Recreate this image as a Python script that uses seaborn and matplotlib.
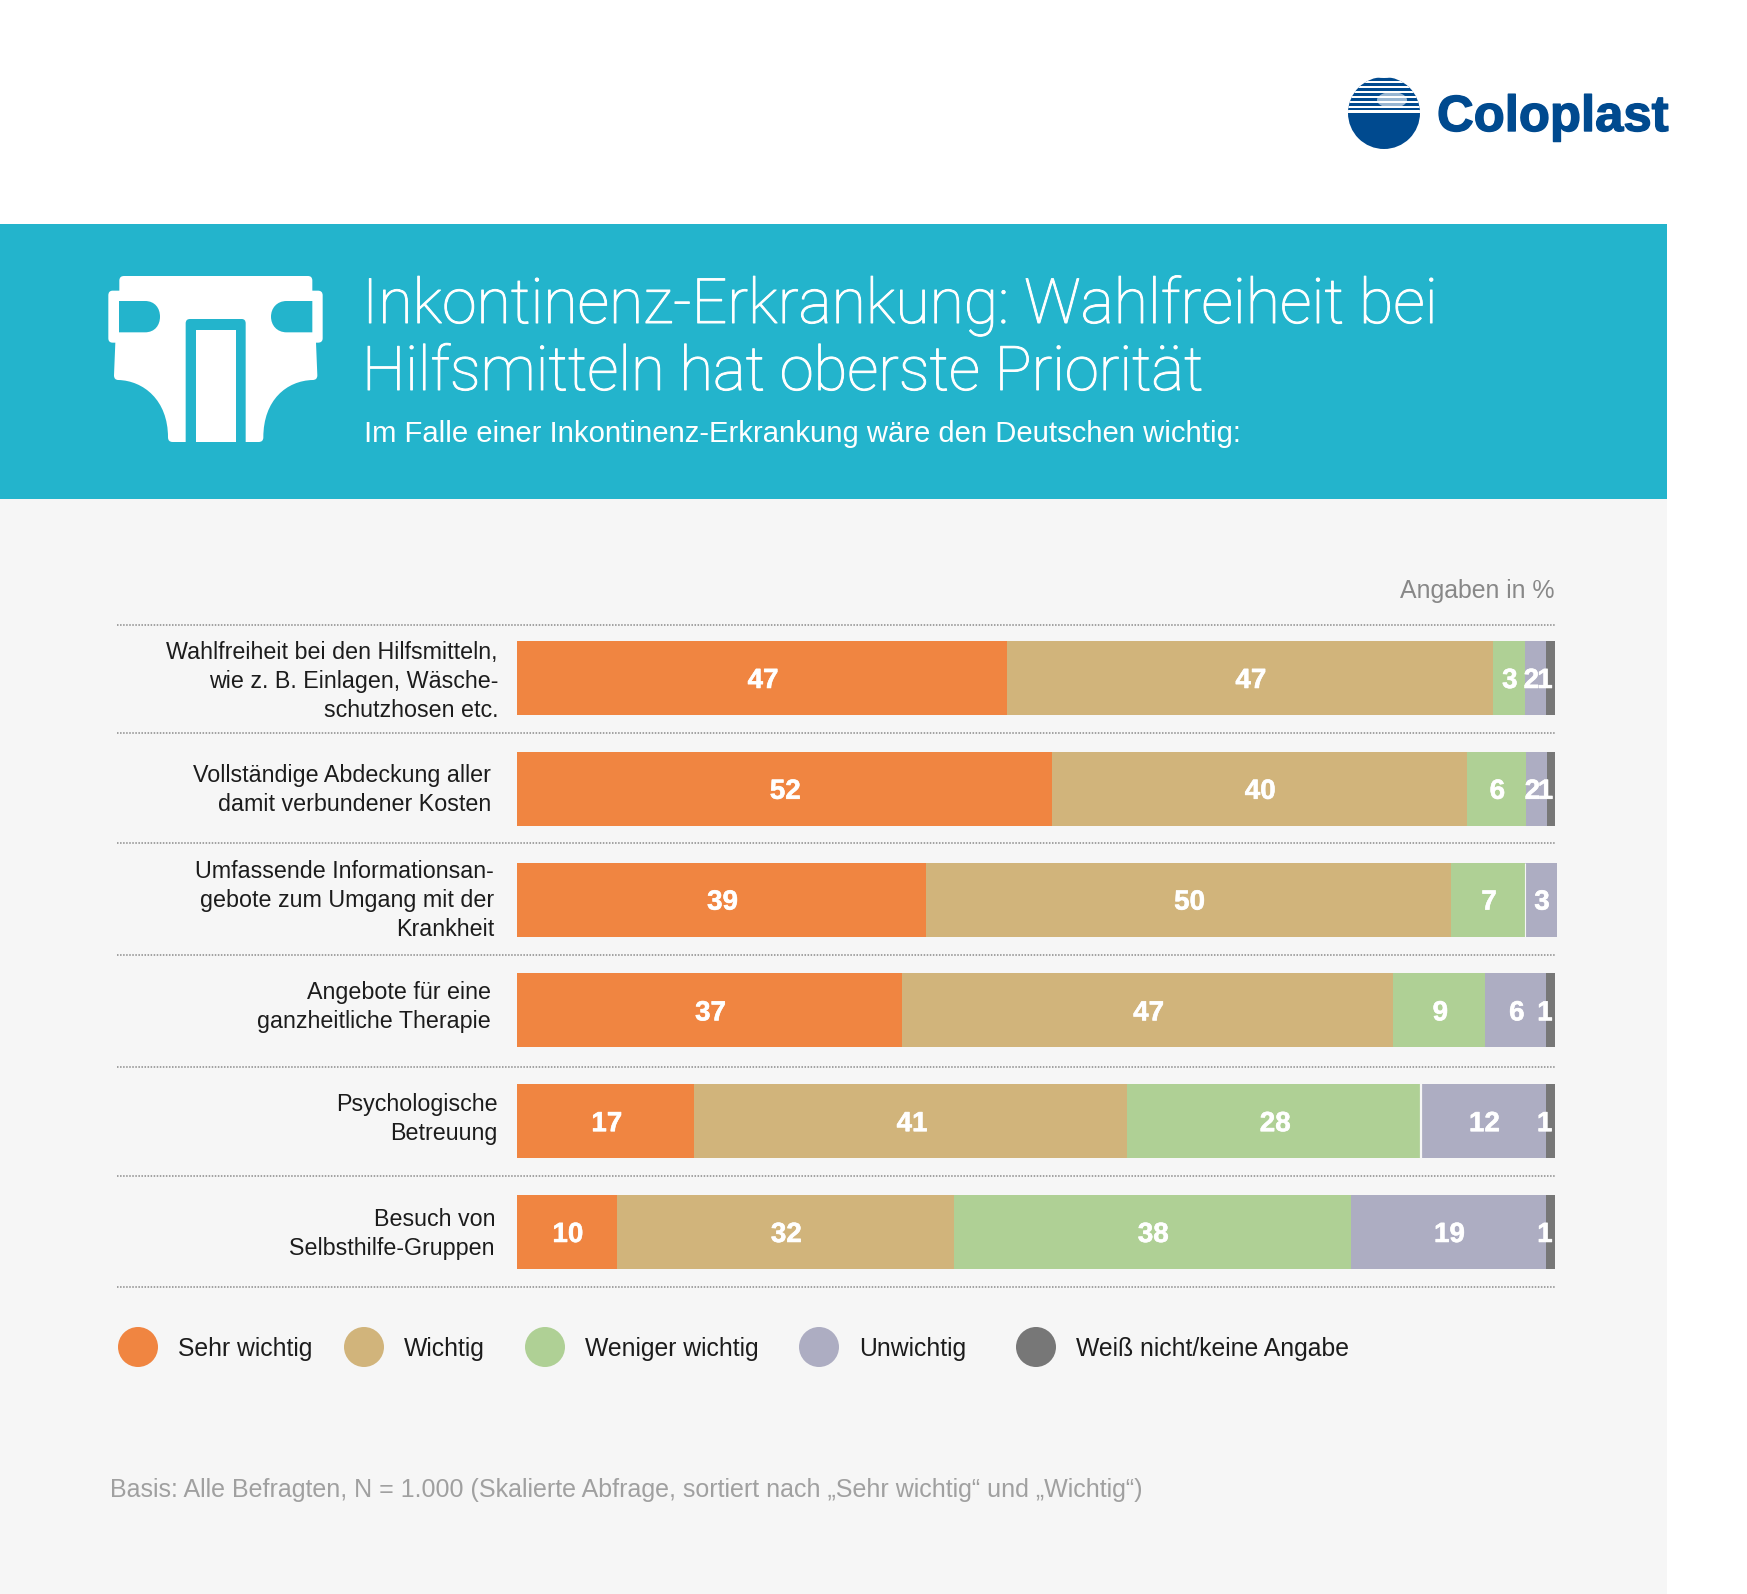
import numpy as np
import pandas as pd
import matplotlib
matplotlib.use("Agg")
import matplotlib.pyplot as plt
import matplotlib.patheffects as pe
import seaborn as sns
from matplotlib.path import Path
from matplotlib.patches import PathPatch, Rectangle, Circle, Ellipse
from matplotlib.transforms import ScaledTranslation

W, H = 1747, 1594

categories = [
    "Wahlfreiheit bei den Hilfsmitteln,\nwie z. B. Einlagen, Wäsche-\nschutzhosen etc.",
    "Vollständige Abdeckung aller\ndamit verbundener Kosten",
    "Umfassende Informationsan-\ngebote zum Umgang mit der\nKrankheit",
    "Angebote für eine\nganzheitliche Therapie",
    "Psychologische\nBetreuung",
    "Besuch von\nSelbsthilfe-Gruppen",
]
series_names = ["Sehr wichtig", "Wichtig", "Weniger wichtig", "Unwichtig", "Weiß nicht/keine Angabe"]
colors = ["#F08541", "#D1B47B", "#AFD095", "#ADADC2", "#777777"]

# bar lengths as measured in the picture
sehr_wichtig = [47.2, 51.5, 39.4, 37.1, 17.1, 9.6]
wichtig = [46.8, 40.0, 50.6, 47.3, 41.7, 32.5]
weniger_wichtig = [3.1, 5.7, 7.1, 8.9, 28.3, 38.2]
unwichtig = [2.05, 2.05, 3.1, 5.85, 12.0, 18.85]
keine_angabe = [0.85, 0.75, 0.0, 0.85, 0.9, 0.85]
# printed labels
label_sehr = [47, 52, 39, 37, 17, 10]
label_wichtig = [47, 40, 50, 47, 41, 32]
label_weniger = [3, 6, 7, 9, 28, 38]
label_unwichtig = [2, 2, 3, 6, 12, 19]
label_keine = [1, 1, 0, 1, 1, 1]

title_lines = ["Inkontinenz-Erkrankung: Wahlfreiheit bei", "Hilfsmitteln hat oberste Priorität"]
subtitle = "Im Falle einer Inkontinenz-Erkrankung wäre den Deutschen wichtig:"
unit_note = "Angaben in %"
footnote = "Basis: Alle Befragten, N = 1.000 (Skalierte Abfrage, sortiert nach „Sehr wichtig“ und „Wichtig“)"
logo_text = "Coloplast"

sns.set_theme(style="white")
plt.rcParams["font.family"] = ["Liberation Sans", "DejaVu Sans"]

BLUE = "#23B4CC"
PANEL = "#F6F6F6"
NAVY = "#004A8F"

fig = plt.figure(figsize=(W / 100, H / 100), dpi=100, facecolor="white")

# full-figure layer in pixel coordinates for the page furniture
bg = fig.add_axes([0, 0, 1, 1], zorder=0)
bg.set_xlim(0, W)
bg.set_ylim(H, 0)
bg.axis("off")
bg.add_patch(Rectangle((0, 499), 1667, H - 499, fc=PANEL, ec="none"))
bg.add_patch(Rectangle((0, 224), 1667, 275, fc=BLUE, ec="none"))

# logo
globe = Circle((1384, 113), 36, transform=bg.transData, fc=NAVY, ec="none")
bg.add_patch(globe)
for y0, h in [(74, 4), (80.6, 2.6), (85.6, 2.6), (90.6, 2.6), (95.6, 2.6), (100.6, 2.6), (105.6, 2.6), (110.3, 2.6)]:
    r = bg.add_patch(Rectangle((1340, y0), 90, h, fc="white", ec="none"))
    r.set_clip_path(globe)
glow = bg.add_patch(Ellipse((1392, 100), 30, 16, fc="white", ec="none", alpha=0.6))
glow.set_clip_path(globe)
logo = bg.text(1437, 131, logo_text, color=NAVY, fontsize=36.6, fontweight="bold", ha="left", va="baseline")
logo.set_path_effects([pe.withStroke(linewidth=1.0, foreground=NAVY)])


def zp(x, y):
    return (80 + x / 3, 250 + y / 3)


def build(cmds):
    verts, codes = [], []
    for c, *pts in cmds:
        code = {"M": Path.MOVETO, "L": Path.LINETO, "Q": Path.CURVE3, "C": Path.CURVE4}[c]
        for p in pts:
            verts.append(zp(*p))
            codes.append(code)
    verts.append(verts[0])
    codes.append(Path.CLOSEPOLY)
    return Path(verts, codes)


diaper = [
    ("M", (118, 92)), ("Q", (118, 78), (132, 78)), ("L", (684, 78)), ("Q", (697, 78), (697, 92)),
    ("L", (697, 122)), ("L", (714, 122)), ("Q", (728, 122), (728, 136)), ("L", (728, 265)),
    ("Q", (728, 278), (714, 278)), ("L", (708, 278)), ("L", (712, 376)), ("Q", (712, 390), (698, 390)),
    ("C", (620, 392), (550, 450), (550, 562)), ("Q", (550, 576), (536, 576)), ("L", (278, 576)),
    ("Q", (264, 576), (264, 562)), ("C", (264, 450), (190, 392), (115, 390)), ("Q", (102, 390), (102, 376)),
    ("L", (106, 278)), ("L", (98, 278)), ("Q", (85, 278), (85, 265)), ("L", (85, 136)),
    ("Q", (85, 122), (98, 122)), ("L", (118, 122)),
]
frame = [("M", (317, 576)), ("L", (317, 220)), ("Q", (317, 207), (330, 207)), ("L", (485, 207)),
         ("Q", (497, 207), (497, 220)), ("L", (497, 576))]
inner = [("M", (347, 240)), ("L", (467, 240)), ("L", (467, 576)), ("L", (347, 576))]
hole_l = [("M", (117, 153)), ("L", (195, 153)), ("C", (225, 153), (240, 175), (240, 200)),
          ("C", (240, 225), (225, 247), (195, 247)), ("L", (117, 247))]
hole_r = [("M", (697, 153)), ("L", (620, 153)), ("C", (590, 153), (573, 175), (573, 200)),
          ("C", (573, 225), (590, 247), (620, 247)), ("L", (697, 247))]
bg.add_patch(PathPatch(build(diaper), fc="white", ec="none"))
for shape in (frame, hole_l, hole_r):
    bg.add_patch(PathPatch(build(shape), fc=BLUE, ec="none"))
bg.add_patch(PathPatch(build(inner), fc="white", ec="none"))

# header text
TITLE = dict(color="white", family=["Roboto"], fontweight="light", ha="left", va="baseline")
t1 = bg.text(362, 323, title_lines[0], fontsize=45, **TITLE)
t2 = bg.text(362, 390, title_lines[1], fontsize=44.3, **TITLE)
for t in (t1, t2):
    t.set_path_effects([pe.withStroke(linewidth=0.7, foreground="white")])
bg.text(364, 442, subtitle, color="white", fontsize=21.05, ha="left", va="baseline")
bg.text(1555, 598, unit_note, color="#888888", fontsize=17.9, ha="right", va="baseline")

# dotted rules
bg.hlines([625, 733, 843, 955, 1067, 1176, 1287], 117, 1555, color="#8A8A8A", lw=1.1, linestyles=[(0, (1, 1))])

# legend row
legend_dot_x = [138, 364, 545, 819, 1036]
legend_txt_x = [178, 404, 585, 859, 1076]
for name, col, cx, tx in zip(series_names, colors, legend_dot_x, legend_txt_x):
    bg.add_patch(Circle((cx, 1347), 20, fc=col, ec="none"))
    bg.text(tx, 1356, name, color="#1C1C1C", fontsize=17.8, ha="left", va="baseline")

bg.text(110, 1496.5, footnote, color="#A0A0A0", fontsize=18.03, ha="left", va="baseline")

# the chart
ax = fig.add_axes([517 / W, 1 - 1287.4 / H, (1555 - 517) / W, (1287.4 - 622.6) / H], zorder=1)
ax.patch.set_alpha(0)

widths = [sehr_wichtig, wichtig, weniger_wichtig, unwichtig, keine_angabe]
labels = [label_sehr, label_wichtig, label_weniger, label_unwichtig, label_keine]
left = np.zeros(len(categories))
for name, col, vals, labs in zip(series_names, colors, widths, labels):
    vals = np.array(vals)
    df = pd.DataFrame({"Kategorie": categories, "Wert": vals})
    sns.barplot(data=df, y="Kategorie", x="Wert", orient="h", color=col, saturation=1,
                width=0.668, left=left, errorbar=None, ax=ax, linewidth=0)
    for i, (v, lab) in enumerate(zip(vals, labs)):
        if lab == 0:
            continue
        nudge = -0.55 if v < 1.5 else (-0.4 if v < 2.5 else 0.1)
        txt = ax.text(left[i] + v / 2 + nudge, i, str(lab), color="white", fontsize=20, fontweight="bold",
                      ha="center", va="center_baseline", clip_on=False, zorder=5)
        txt.set_path_effects([pe.withStroke(linewidth=0.4, foreground="white")])
    left = left + vals

for bar in ax.patches:
    bar.set_clip_on(False)

ax.set_xlim(0, 100)
ax.set_ylim(5.5, -0.5)
ax.set_xlabel("")
ax.set_ylabel("")
ax.set_xticks([])
sns.despine(ax=ax, left=True, bottom=True)
ax.tick_params(axis="y", length=0, pad=0)

# white hairlines between green and lavender segments
gap_x = np.array(sehr_wichtig) + np.array(wichtig) + np.array(weniger_wichtig)
ax.vlines(gap_x[4], 4 - 0.334, 4 + 0.334, color=PANEL, lw=1.6, zorder=4)
ax.vlines(gap_x[2], 2 - 0.334, 2 + 0.334, color=PANEL, lw=0.8, zorder=4)

label_dx = [-19, -26, -23, -26, -19, -22]
label_dy = [2, 4, 5, 9, 8, 3]
for lab, dx, dy in zip(ax.get_yticklabels(), label_dx, label_dy):
    lab.set_fontsize(16.75)
    lab.set_color("#1C1C1C")
    lab.set_linespacing(1.33)
    lab.set_transform(lab.get_transform() + ScaledTranslation(dx / 100, dy / 100, fig.dpi_scale_trans))

fig.savefig("out.png", dpi=100, facecolor="white")
